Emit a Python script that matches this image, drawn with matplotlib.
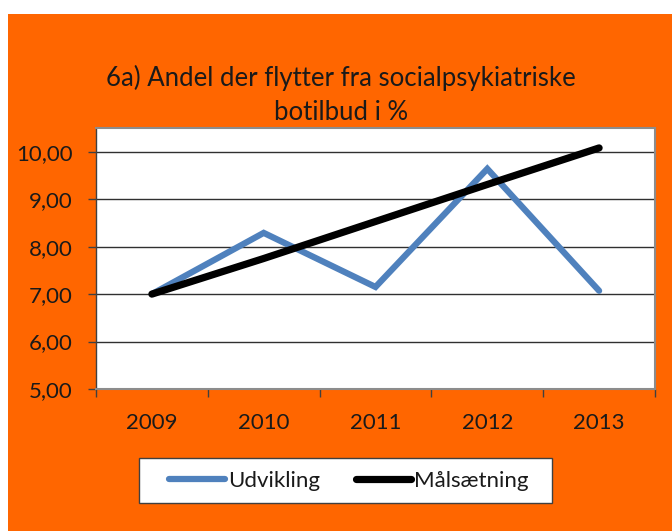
import matplotlib
matplotlib.use("Agg")
import matplotlib.pyplot as plt
from matplotlib.patches import Rectangle

years = ["2009", "2010", "2011", "2012", "2013"]
udvikling = [7.00, 8.29, 7.15, 9.64, 7.07]
maalsaetning = [7.00, 7.75, 8.53, 9.31, 10.08]
yticks = [5, 6, 7, 8, 9, 10]
ytick_labels = ["5,00", "6,00", "7,00", "8,00", "9,00", "10,00"]

plt.rcParams['font.family'] = ['Lato', 'DejaVu Sans']

W, H = 672, 531
fig = plt.figure(figsize=(W/100, H/100), dpi=100, facecolor='white')
orange = '#FF6600'
fig.patches.append(Rectangle((8/W, 0), 1 - 8/W, (H - 14)/H, transform=fig.transFigure,
                             facecolor=orange, edgecolor='none', zorder=-10))

left, right, top, bottom = 96, 655, 128, 389
ax = fig.add_axes([left/W, 1 - bottom/H, (right-left)/W, (bottom-top)/H])
ax.set_facecolor('white')

x = list(range(len(years)))
ax.plot(x, udvikling, color='#4F81BD', lw=4.5, solid_capstyle='round',
        solid_joinstyle='miter', label='Udvikling', zorder=3)
ax.plot(x, maalsaetning, color='black', lw=5.2, solid_capstyle='round',
        label='Målsætning', zorder=4)

ax.set_xlim(-0.5, len(years) - 0.5)
ax.set_ylim(5, 10.5)
ax.set_yticks(yticks)
ax.set_yticklabels(ytick_labels)
ax.yaxis.grid(True, color='#303030', lw=1)
ax.set_axisbelow(True)

ax.set_xticks([i - 0.5 for i in range(len(years) + 1)])
ax.set_xticklabels([])
ax.set_xticks(x, minor=True)
ax.set_xticklabels(years, minor=True)
ax.tick_params(axis='x', which='major', length=6, width=1, color='#404040', direction='out')
ax.tick_params(axis='x', which='minor', length=0, pad=17, labelsize=16, colors='#1a1a1a')
ax.tick_params(axis='y', length=6, width=1, color='#404040', pad=11, labelsize=16,
               labelcolor='#1a1a1a')

for s in ['top', 'right']:
    ax.spines[s].set_color('#8c8c8c')
    ax.spines[s].set_linewidth(1.5)
ax.spines['bottom'].set_color('#8c8c8c')
ax.spines['bottom'].set_linewidth(1.5)
ax.spines['left'].set_color('#404040')
ax.spines['left'].set_linewidth(1)

fig.text(341/W, 1 - 78/H, "6a) Andel der flytter fra socialpsykiatriske",
         ha='center', va='center', fontsize=18.5, color='#1a1a1a')
fig.text(341/W, 1 - 112/H, "botilbud i %",
         ha='center', va='center', fontsize=18.5, color='#1a1a1a')

# legend frame
fig.patches.append(Rectangle((139/W, 1 - 503/H), (552-139)/W, 45/H, transform=fig.transFigure,
                             facecolor='white', edgecolor='#404040', lw=1, zorder=1))
leg = fig.legend(loc='center', bbox_to_anchor=(349/W, 1 - 481/H), ncol=2,
                 frameon=False, fontsize=16, handlelength=2.5,
                 handletextpad=0.15, columnspacing=1.6, borderpad=0.3)
leg.set_zorder(5)
for t in leg.get_texts():
    t.set_color('#1a1a1a')

fig.savefig('out.png', dpi=100, facecolor=fig.get_facecolor())
